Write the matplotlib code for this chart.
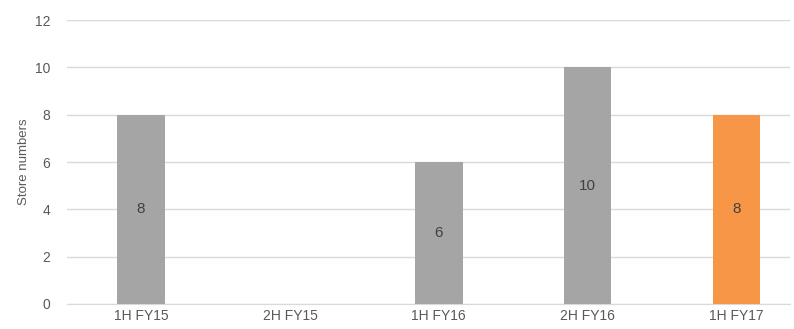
import numpy as np
import matplotlib.pyplot as plt

plt.rcParams['font.family'] = ['Liberation Sans', 'DejaVu Sans']

periods = ['1H FY15', '2H FY15', '1H FY16', '2H FY16', '1H FY17']
stores = [8, 0, 6, 10, 8]
colors = ['#a5a5a5', '#a5a5a5', '#a5a5a5', '#a5a5a5', '#f79646']

fig = plt.figure(figsize=(7.94, 3.29), dpi=100)
ax = fig.add_axes([0.084, 0.076, 0.911, 0.863])

x = np.arange(len(periods))
bars = ax.bar(x, stores, width=0.32, color=colors, zorder=3)

for b, v in zip(bars, stores):
    if v > 0:
        ax.text(b.get_x() + b.get_width() / 2, v / 2, str(v),
                ha='center', va='center', fontsize=11, color='#404040', zorder=4)

ax.set_xlim(-0.5, 4.36)
ax.set_ylim(0, 12)
ax.set_yticks(range(0, 13, 2))
ax.set_xticks(x)
ax.set_xticklabels(periods)
ax.yaxis.grid(True, color='#d9d9d9', linewidth=1, zorder=0)
for s in ['top', 'right', 'left']:
    ax.spines[s].set_visible(False)
ax.spines['bottom'].set_color('#d9d9d9')
ax.tick_params(axis='both', length=0, colors='#595959', labelsize=10)
ax.tick_params(axis='y', pad=12)
ax.set_ylabel('Store numbers', fontsize=9.5, color='#595959', labelpad=3)

fig.savefig('out.png', dpi=100)
